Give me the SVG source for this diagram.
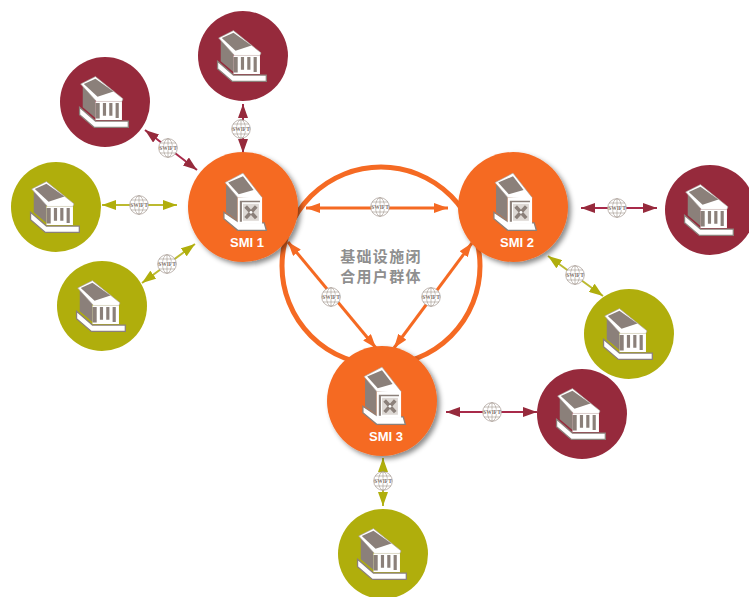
<svg xmlns="http://www.w3.org/2000/svg" width="749" height="597" viewBox="0 0 749 597">
<style>
.red{fill:#962a3c}.olive{fill:#b0ae0c}.orange{fill:#f56a23}
.lr{stroke:#a82a4a;stroke-width:2;fill:none}
.lo{stroke:#bcba30;stroke-width:2;fill:none}
.lg{stroke:#f56a23;stroke-width:3;fill:none}
.smi{font:bold 13px "Liberation Sans",Arial,sans-serif;fill:#fff;text-anchor:middle}
.cn{font:bold 15px "Noto Sans CJK SC","Liberation Sans",sans-serif;fill:#8f8f8f;text-anchor:middle;letter-spacing:1.3px}
.gl{fill:none;stroke:#a3978f;stroke-width:.6}
.sw{font:bold 5.500px "Liberation Serif",serif;fill:#7d716a;text-anchor:middle}
.d{fill:#8b807a}.w{fill:#fff}
</style>
<defs>
<filter id="sh" x="-20%" y="-20%" width="150%" height="150%"><feDropShadow dx="3" dy="3" stdDeviation="2.500" flood-color="#000" flood-opacity=".45"/></filter>
<marker id="mr" viewBox="0 0 14 10" refX="14" refY="5" markerWidth="14" markerHeight="10" markerUnits="userSpaceOnUse" orient="auto-start-reverse"><path d="M0 0L14 5L0 10Z" fill="#962a3c"/></marker>
<marker id="mo" viewBox="0 0 14 10" refX="14" refY="5" markerWidth="14" markerHeight="10" markerUnits="userSpaceOnUse" orient="auto-start-reverse"><path d="M0 0L14 5L0 10Z" fill="#b0ae0c"/></marker>
<marker id="mg" viewBox="0 0 14 10" refX="14" refY="5" markerWidth="14" markerHeight="10" markerUnits="userSpaceOnUse" orient="auto-start-reverse"><path d="M0 0L14 5L0 10Z" fill="#f56a23"/></marker>
<g id="bank" transform="scale(1.06)">
<path d="M-24 5L-9 18H22V24H-10L-24 12Z" class="w" stroke="#8b807a" stroke-width="1.200"/>
<path d="M-21 -16V5L-9 15V-3Z" class="d"/>
<path d="M-23 -17L-9 -24L17 -3L16 -.5L-8 -.5Z" class="w" stroke="#a59b95" stroke-width=".6"/>
<path d="M-20 -17L-9 -22L8 -10L-7 -5Z" class="d"/>
<path d="M-9 -.5H16V17H-9Z" class="w"/>
<path d="M-9 1H-5V15.500H-9ZM-2 1H1V13H-2ZM4 1H7V13H4ZM10 1H13V15H10Z" class="d"/>
</g>
<g id="bankx" transform="scale(1.06)">
<path d="M-18 5L-3 15H20L22 22H-5L-18 11Z" class="w" stroke="#8b807a" stroke-width="1.200"/>
<path d="M-16 -21V5L-5 13V-11Z" class="d"/>
<path d="M-17 -23L0 -32L18 -9L17 -7L-5 -9Z" class="w" stroke="#a59b95" stroke-width=".6"/>
<path d="M-14 -23L0 -29L10 -16L-4 -12Z" class="d"/>
<path d="M-5 -9H18V16H-5Z" class="w"/>
<path d="M-3 -6H16V-4.500H-1V14H-3Z" class="d"/>
<rect x="0" y="-3" width="15" height="16" fill="#ddd8d4"/>
<path d="M2.500 -.5L12.500 10.500M12.500 -.5L2.500 10.500" stroke="#8b807a" stroke-width="3.400" fill="none"/>
<circle cx="7.500" cy="5" r="1.300" class="w"/>
</g>
<g id="globe">
<circle r="9.300" fill="#fff" stroke="#a3978f" stroke-width=".7"/>
<ellipse rx="4.500" ry="9.300" class="gl"/><path d="M0 -9.300V9.300M-8 -5H8M-9.300 0H9.300M-8 5H8" class="gl"/>
<rect x="-8" y="-2.400" width="16" height="4.600" fill="#fff"/>
<text y="1.800" class="sw">SWIFT</text>
</g>
</defs>
<circle cx="381" cy="266" r="99" fill="#fff" stroke="#f56a23" stroke-width="5"/>
<text x="381" y="262" class="cn">基础设施闭</text>
<text x="381" y="282" class="cn">合用户群体</text>
<g id="connectors">
<path class="lr" d="M243 104V153" marker-start="url(#mr)" marker-end="url(#mr)"/>
<path class="lr" d="M145 130L197 170" marker-start="url(#mr)" marker-end="url(#mr)"/>
<path class="lo" d="M102 205H177" marker-start="url(#mo)" marker-end="url(#mo)"/>
<path class="lo" d="M142 283L195 244" marker-start="url(#mo)" marker-end="url(#mo)"/>
<path class="lg" d="M306 208H448" marker-start="url(#mg)" marker-end="url(#mg)"/>
<path class="lg" d="M288 242L376 348" marker-start="url(#mg)" marker-end="url(#mg)"/>
<path class="lg" d="M394 348L472 243" marker-start="url(#mg)" marker-end="url(#mg)"/>
<path class="lr" d="M581 208H657" marker-start="url(#mr)" marker-end="url(#mr)"/>
<path class="lo" d="M548 256L603 296" marker-start="url(#mo)" marker-end="url(#mo)"/>
<path class="lr" d="M446 412H537" marker-start="url(#mr)" marker-end="url(#mr)"/>
<path class="lo" d="M383 458V506" marker-start="url(#mo)" marker-end="url(#mo)"/>
<use href="#globe" x="241" y="129"/><use href="#globe" x="168" y="148"/><use href="#globe" x="139" y="205"/><use href="#globe" x="167" y="264"/>
<use href="#globe" x="380" y="207"/><use href="#globe" x="331" y="297"/><use href="#globe" x="431" y="297"/>
<use href="#globe" x="617" y="208"/><use href="#globe" x="575" y="275"/><use href="#globe" x="492" y="412"/><use href="#globe" x="383" y="481"/>
</g>
<g id="bank-r1"><circle cx="243" cy="56" r="45" class="red"/><use href="#bank" x="243" y="56"/></g>
<g id="bank-r2"><circle cx="105" cy="102" r="45" class="red"/><use href="#bank" x="105" y="102"/></g>
<g id="bank-r3"><circle cx="710" cy="210" r="45" class="red"/><use href="#bank" x="710" y="210"/></g>
<g id="bank-r4"><circle cx="582" cy="414" r="45" class="red"/><use href="#bank" x="582" y="414"/></g>
<g id="bank-o1"><circle cx="56" cy="207" r="45" class="olive"/><use href="#bank" x="56" y="207"/></g>
<g id="bank-o2"><circle cx="102" cy="306" r="45" class="olive"/><use href="#bank" x="102" y="306"/></g>
<g id="bank-o3"><circle cx="629" cy="334" r="45" class="olive"/><use href="#bank" x="629" y="334"/></g>
<g id="bank-o4"><circle cx="383" cy="554" r="45" class="olive"/><use href="#bank" x="383" y="554"/></g>
<g id="smi1"><circle cx="243" cy="207" r="55" class="orange" filter="url(#sh)"/><use href="#bankx" x="243" y="207"/><text x="247" y="247" class="smi">SMI 1</text></g>
<g id="smi2"><circle cx="513" cy="207" r="55" class="orange" filter="url(#sh)"/><use href="#bankx" x="513" y="207"/><text x="517" y="247" class="smi">SMI 2</text></g>
<g id="smi3"><circle cx="382" cy="401" r="55" class="orange" filter="url(#sh)"/><use href="#bankx" x="382" y="401"/><text x="386" y="441" class="smi">SMI 3</text></g>
</svg>
